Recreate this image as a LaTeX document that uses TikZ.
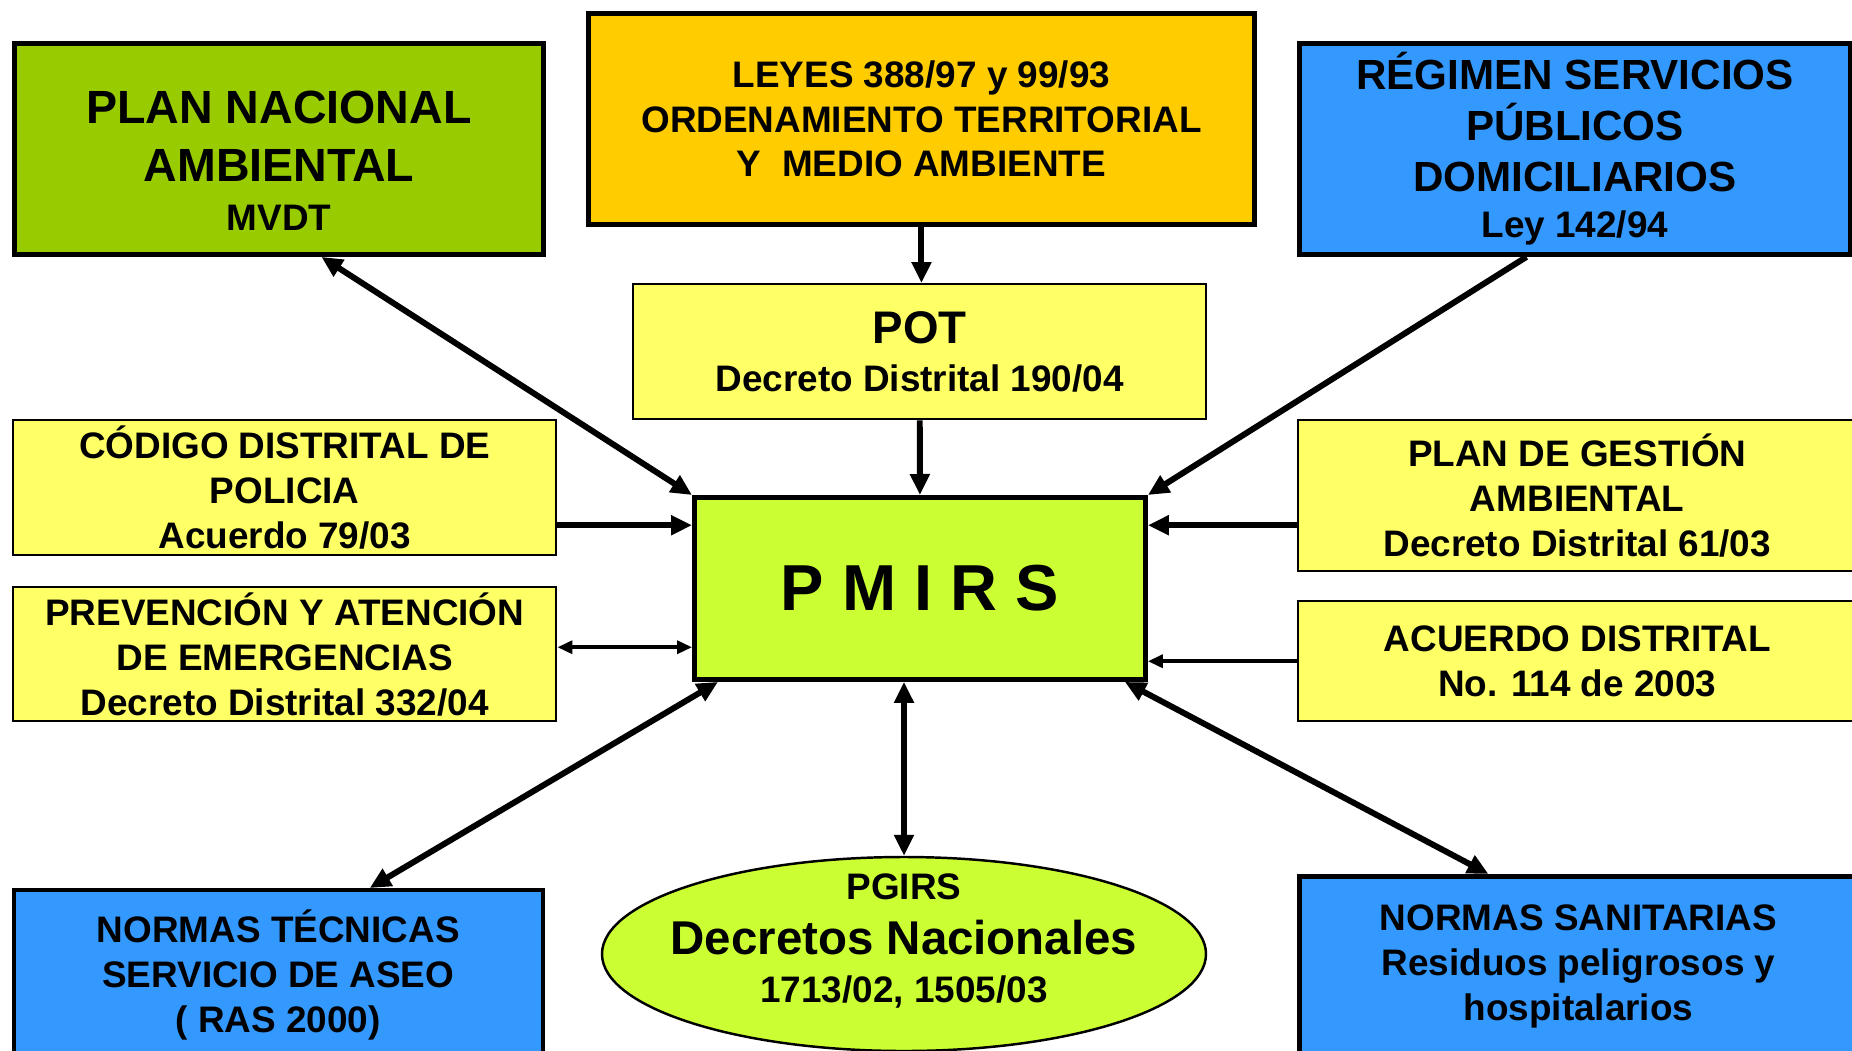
\documentclass[tikz,border=0pt]{standalone}
\usepackage{fontspec}
\setmainfont{Liberation Sans}
\usetikzlibrary{arrows.meta,shapes.geometric}
\newcommand{\pw}{0.02cm}
\newcommand{\cuerpo}{\fontsize{21}{25.5}\selectfont\bfseries}

\definecolor{verdeplan}{HTML}{99CC00}
\definecolor{naranja}{HTML}{FFCC00}
\definecolor{azul}{HTML}{3399FF}
\definecolor{amarillo}{HTML}{FFFF66}
\definecolor{limon}{HTML}{CCFF33}

\begin{document}
\begin{tikzpicture}[x=\pw, y=-\pw,
    caja/.style={draw, rectangle, anchor=north west, align=center, inner sep=0pt, line width=1.4pt, font=\cuerpo},
    gruesa/.style={caja, line width=2.8pt},
    flecha/.style={line width=3.4pt, -{Triangle[length=0.42cm,width=0.38cm]}},
    doble/.style={line width=3.4pt, {Triangle[length=0.42cm,width=0.38cm]}-{Triangle[length=0.42cm,width=0.38cm]}},
    fina/.style={line width=2pt, -{Triangle[length=0.3cm,width=0.26cm]}},
    finadoble/.style={line width=2pt, {Triangle[length=0.3cm,width=0.26cm]}-{Triangle[length=0.3cm,width=0.26cm]}}]
    \useasboundingbox (0,0) rectangle (1852,1051);
    \clip (0,0) rectangle (1852,1051);
    \fill[white] (0,0) rectangle (1852,1051);

    % top row
    \node[gruesa, fill=verdeplan, minimum width=529*\pw, minimum height=211*\pw] (plan) at (12,41)
        {\fontsize{26.5}{33}\selectfont\rule{0pt}{32pt}PLAN NACIONAL\\[7.4pt] \fontsize{26.5}{33}\selectfont AMBIENTAL\\[2.3pt] \fontsize{21}{25}\selectfont MVDT};
    \node[gruesa, fill=naranja, minimum width=666*\pw, minimum height=211*\pw] (leyes) at (586,11)
        {LEYES 388/97 y 99/93\\ ORDENAMIENTO TERRITORIAL\\ Y~~MEDIO AMBIENTE};
    \node[gruesa, fill=azul, minimum width=551*\pw, minimum height=211*\pw] (regimen) at (1297,41)
        {\fontsize{24}{29}\selectfont RÉGIMEN SERVICIOS\\[3.4pt] \fontsize{24}{29}\selectfont PÚBLICOS\\[3.4pt] \fontsize{24}{29}\selectfont DOMICILIARIOS\\[1.1pt] Ley 142/94};
    \node[caja, fill=amarillo, minimum width=573*\pw, minimum height=135*\pw] (pot) at (632,283)
        {\fontsize{26}{29}\selectfont POT\\[1.7pt] Decreto Distrital 190/04};

    % middle
    \node[caja, fill=amarillo, minimum width=543*\pw, minimum height=135*\pw] (codigo) at (12,419)
        {CÓDIGO DISTRITAL DE\\ POLICIA\\ Acuerdo 79/03};
    \node[caja, fill=amarillo, minimum width=543*\pw, minimum height=134*\pw] (prevencion) at (12,586)
        {PREVENCIÓN Y ATENCIÓN\\ DE EMERGENCIAS\\ Decreto Distrital 332/04};
    \node[gruesa, fill=limon, minimum width=451*\pw, minimum height=182*\pw, font=\fontsize{37}{40}\selectfont\bfseries] (pmirs) at (692,495)
        {P M I R S};
    \node[caja, fill=amarillo, minimum width=558*\pw, minimum height=151*\pw] (gestion) at (1297,419)
        {PLAN DE GESTIÓN\\ AMBIENTAL\\ Decreto Distrital 61/03};
    \node[caja, fill=amarillo, minimum width=558*\pw, minimum height=120*\pw] (acuerdo) at (1297,600)
        {ACUERDO DISTRITAL\\ No. 114 de 2003};

    % bottom row
    \node[caja, fill=azul, line width=2pt, minimum width=529*\pw, minimum height=170*\pw] (tecnicas) at (12,888)
        {NORMAS TÉCNICAS\\ SERVICIO DE ASEO\\ ( RAS 2000)};
    \node[draw, ellipse, fill=limon, line width=1.4pt, inner sep=0pt,
        minimum width=604*\pw, minimum height=194*\pw,
        label={[align=center, font=\cuerpo, yshift=0.26cm]center:{PGIRS\\[6pt] \fontsize{27}{31}\selectfont Decretos Nacionales\\[1.7pt] 1713/02, 1505/03}}] (pgirs) at (904,954) {};
    \node[gruesa, fill=azul, minimum width=558*\pw, minimum height=180*\pw] (sanitarias) at (1297,874)
        {NORMAS SANITARIAS\\ Residuos peligrosos y\\ hospitalarios};

    % connectors
    \draw[doble] ([xshift=0.85cm]plan.south) -- (pmirs.north west);
    \draw[flecha] (leyes.south) -- (leyes.south |- pot.north);
    \draw[flecha] (pot.south) -- (pmirs.north);
    \draw[flecha] ([xshift=-0.97cm]regimen.south) -- (pmirs.north east);
    \draw[flecha] ([yshift=-0.75cm]codigo.east) -- ([yshift=-0.75cm]codigo.east -| pmirs.west);
    \draw[finadoble] ([yshift=0.14cm]prevencion.east) -- ([yshift=0.14cm]prevencion.east -| pmirs.west);
    \draw[flecha] ([yshift=-0.59cm]gestion.west) -- ([yshift=-0.59cm]gestion.west -| pmirs.east);
    \draw[fina] (acuerdo.west) -- (acuerdo.west -| pmirs.east);
    \draw[doble] ([xshift=0.52cm]pmirs.south west) -- ([xshift=1.83cm]tecnicas.north);
    \draw[doble] (pgirs.north |- pmirs.south) -- (pgirs.north);
    \draw[doble] ([xshift=-0.46cm]pmirs.south east) -- ([xshift=-1.8cm]sanitarias.north);
\end{tikzpicture}
\end{document}
